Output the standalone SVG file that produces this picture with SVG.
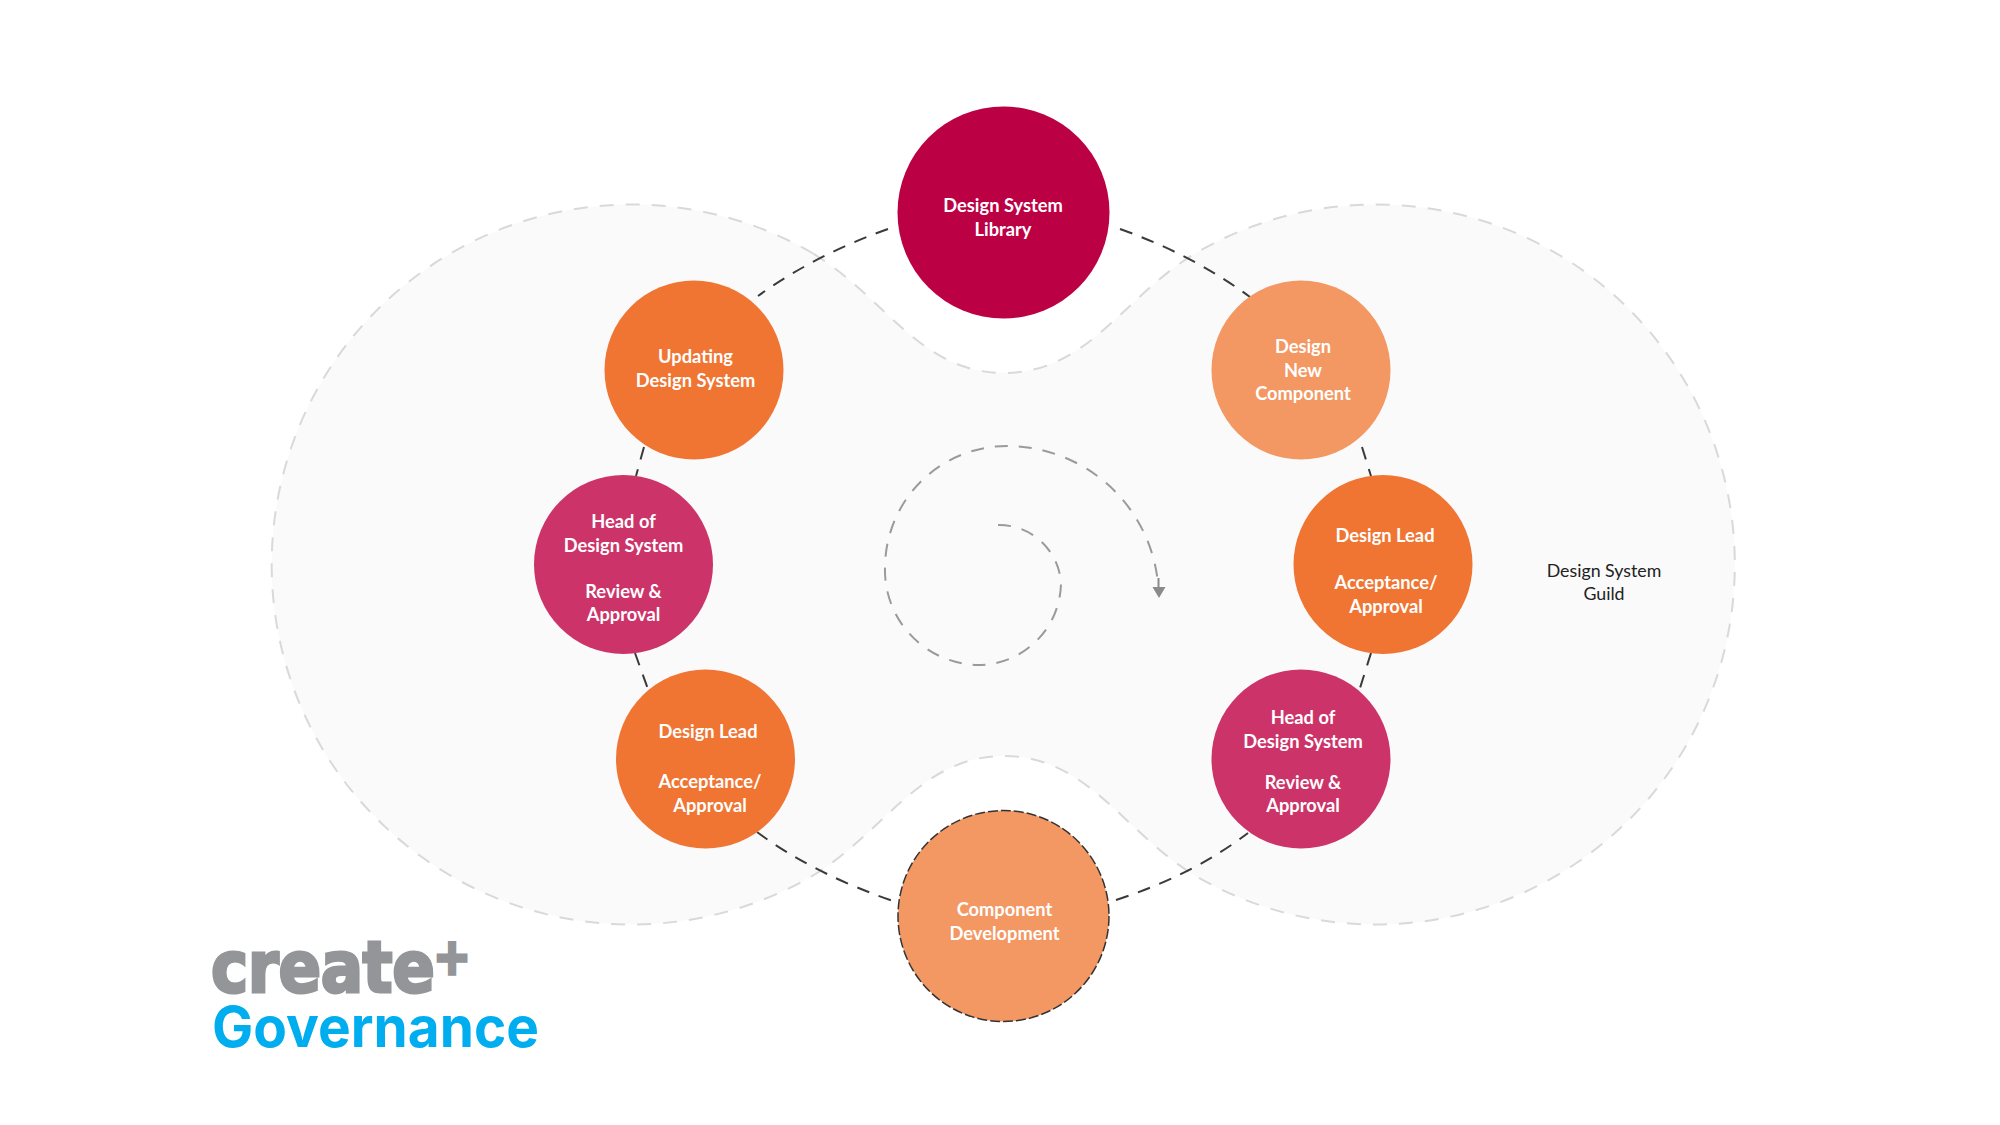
<svg xmlns="http://www.w3.org/2000/svg" width="2000" height="1125" viewBox="0 0 2000 1125">
<style>
.n text{font-family:"Lato","Carlito","Liberation Sans",sans-serif;font-weight:700;font-size:18.3px;fill:#fff;text-anchor:middle}
.c{fill:none;stroke:#3a3a3a;stroke-width:2;stroke-dasharray:13 10}
.org{fill:#F07533}.lt{fill:#F39763}.pk{fill:#CC3369}.cr{fill:#BC0044}
</style>
<rect width="2000" height="1125" fill="#fff"/>
<path id="guild-area" d="M813 253.500 A360 360 0 1 0 813 875.500 C885 832 920 756 1004 756 C1088 756 1123 832 1195 875.500 A359 360 0 1 0 1195 253.500 C1123 297 1088 373 1004 373 C920 373 885 297 813 253.500 Z" fill="#FAFAFA" stroke="#D9D9D9" stroke-width="2" stroke-dasharray="14 12"/>
<g id="connectors">
<path class="c" d="M888 229 Q815 255 758 296"/>
<path class="c" d="M1120 229 Q1193 255 1250 297"/>
<path class="c" d="M644 447 L636 476"/>
<path class="c" d="M1362 447 L1371 476"/>
<path class="c" d="M635 653 L649 692"/>
<path class="c" d="M1371 653 L1360 688"/>
<path class="c" d="M757 832 Q815 875 899 903"/>
<path class="c" d="M1116 900 Q1193 875 1248 833"/>
<path d="M998 525 A62 62 0 0 1 1061 583 A83 83 0 0 1 977 665 A95 95 0 0 1 885 567 A122 122 0 0 1 1007 446 A152 152 0 0 1 1158.500 590" fill="none" stroke="#9a9a9a" stroke-width="2" stroke-dasharray="13 11"/>
<path d="M1158.500 578 V592" fill="none" stroke="#8a8a8a" stroke-width="2"/>
<path d="M1152.500 587 L1165.500 587 L1159 598 Z" fill="#8a8a8a"/>
</g>
<g id="library" class="n"><circle class="cr" cx="1003.500" cy="212.500" r="106"/><text x="1003" y="212">Design System</text><text x="1003" y="235.500">Library</text></g>
<g id="updating" class="n"><circle class="org" cx="694" cy="370" r="89.500"/><text x="695.500" y="363">Updating</text><text x="695.500" y="386.500">Design System</text></g>
<g id="head-left" class="n"><circle class="pk" cx="623.500" cy="564.500" r="89.500"/><text x="623.500" y="528">Head of</text><text x="623.500" y="552">Design System</text><text x="623.500" y="597.500">Review &amp;</text><text x="623.500" y="621">Approval</text></g>
<g id="lead-left" class="n"><circle class="org" cx="705.500" cy="759" r="89.500"/><text x="708" y="738">Design Lead</text><text x="710" y="788">Acceptance/</text><text x="710" y="811.500">Approval</text></g>
<g id="design-new" class="n"><circle class="lt" cx="1301" cy="370" r="89.500"/><text x="1303" y="353">Design</text><text x="1303" y="376.500">New</text><text x="1303" y="400">Component</text></g>
<g id="lead-right" class="n"><circle class="org" cx="1383" cy="564.500" r="89.500"/><text x="1385" y="542">Design Lead</text><text x="1386" y="588.500">Acceptance/</text><text x="1386" y="612.500">Approval</text></g>
<g id="head-right" class="n"><circle class="pk" cx="1301" cy="759" r="89.500"/><text x="1303" y="724">Head of</text><text x="1303" y="748">Design System</text><text x="1303" y="789">Review &amp;</text><text x="1303" y="812">Approval</text></g>
<g id="component" class="n"><circle class="lt" cx="1003.500" cy="916" r="105.500" stroke="#333" stroke-width="1.500" stroke-dasharray="10 3"/><text x="1004.500" y="916">Component</text><text x="1004.500" y="940">Development</text></g>
<g id="guild-label" font-family="Lato,Carlito,'Liberation Sans',sans-serif" font-size="17.800px" fill="#222" text-anchor="middle"><text x="1604" y="577">Design System</text><text x="1604" y="600">Guild</text></g>
<g id="logo">
<text transform="translate(211 992) scale(.886 1)" font-family="'DejaVu Sans',sans-serif" font-weight="700" font-size="71" fill="#939598" stroke="#939598" stroke-width="3" letter-spacing="-0.500">create<tspan x="251" y="-18" font-size="50" stroke-width="3.500">+</tspan></text>
<text x="212" y="1047" font-family="Inter,'Open Sans',sans-serif" font-weight="700" font-size="56" fill="#00AEEF" textLength="327" lengthAdjust="spacingAndGlyphs">Governance</text>
</g>
</svg>
